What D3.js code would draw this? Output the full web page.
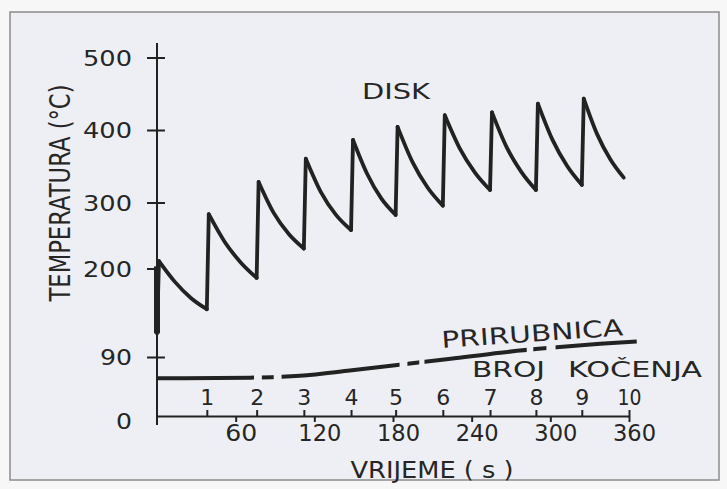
<!DOCTYPE html>
<html lang="hr">
<head>
<meta charset="utf-8">
<title>Temperatura diska i prirubnice pri kočenju</title>
<style>
html, body { margin: 0; padding: 0; background: #f7f7f7; }
svg { display: block; }
text { font-family: "DejaVu Sans", "Liberation Sans", sans-serif; fill: #262626; }
</style>
<script src="https://d3js.org/d3.v7.min.js"></script>
</head>
<body>
<div id="chart"></div>
<script>
// braking moments (s), numbered 1..10 along the time axis
var brakeNo = [1, 2, 3, 4, 5, 6, 7, 8, 9, 10];
var brakeTime = [38, 76, 112, 148, 182, 218, 254, 289, 324, 360];
var timeTicks = [60, 120, 180, 240, 300, 360];
var tempTicks = [0, 90, 200, 300, 400, 500];

// disk: heats up at every braking, cools down until the next one
var diskStart = 120;
var diskPeak  = [212, 283, 329, 361, 387, 405, 421, 425, 437, 444];
var diskFall1 = [184, 241, 285, 315, 340, 356, 375, 377, 387, 395];
var diskFall2 = [164, 210, 253, 282, 306, 321, 342, 343, 351, 360];
var diskLow   = [150, 189, 231, 259, 282, 296, 318, 318, 325, 335];
var diskEnd = 356;

// flange (prirubnica)
var flangeTime = [0, 71, 109, 147, 185, 224, 262, 300, 338, 366];
var flangeTemp = [58, 59, 62, 70, 79, 88, 96, 102, 107, 110];
// pieces of the flange line that are inked (the drawing has small gaps)
var flangeInk = [[0, 74], [80, 89], [95, 185], [191, 200], [204, 282], [287, 297], [304, 366]];

var width = 727, height = 489;
var ink = "#222";

var svg = d3.select("#chart").append("svg")
    .attr("width", width)
    .attr("height", height);

// paper + frame
svg.append("rect")
    .attr("x", 10).attr("y", 12)
    .attr("width", 709).attr("height", 468)
    .style("fill", "#eeeff4")
    .style("stroke", "#8c8c8c")
    .style("stroke-width", 1.5);

// the original temperature axis is not uniform (0-90 is squeezed)
var x = d3.scaleLinear().domain([0, 360]).range([157, 629]);
var y = d3.scaleLinear().domain(tempTicks).range([416, 357.5, 269, 203, 130.5, 58]);

// lettering in the original is wide stencil type: stretch glyphs to the measured widths
function fit(sel, w) {
    sel.attr("textLength", w).attr("lengthAdjust", "spacingAndGlyphs");
}

// ---- temperature axis ----
svg.append("line")
    .attr("x1", x(0)).attr("x2", x(0))
    .attr("y1", y(0) + 9).attr("y2", y(500) - 15)
    .style("stroke", ink).style("stroke-width", 2);

svg.selectAll(".ytick")
    .data(tempTicks.filter(function(d) { return d > 0; }))
    .enter()
    .append("line")
        .attr("class", "ytick")
        .attr("x1", x(0) - 10)
        .attr("x2", function(d) { return d == 200 ? x(0) : x(0) + 8; })
        .attr("y1", function(d) { return y(d); })
        .attr("y2", function(d) { return y(d); })
        .style("stroke", ink).style("stroke-width", 2);

svg.selectAll(".ylab")
    .data(tempTicks)
    .enter()
    .append("text")
        .attr("class", "ylab")
        .attr("x", 132)
        .attr("y", function(d) { return y(d) + (d == 0 ? 5 : 0); })
        .attr("dy", "0.36em")
        .attr("text-anchor", "end")
        .style("font-size", "21px")
        .text(function(d) { return d; })
        .call(fit, function(d) { return [16, 32, 49][String(d).length - 1]; });

svg.append("text")
    .attr("transform", "translate(70," + 193 + ") rotate(-90)")
    .attr("text-anchor", "middle")
    .style("font-size", "29px")
    .text("TEMPERATURA (°C)")
    .call(fit, 217);

// ---- time axis ----
var xAxis = d3.axisBottom(x)
    .tickValues(timeTicks)
    .tickSize(6)
    .tickSizeOuter(0)
    .tickPadding(3);

var gx = svg.append("g")
    .attr("transform", "translate(0," + y(0) + ")")
    .call(xAxis);
gx.attr("font-family", null).attr("font-size", null);
gx.select(".domain").style("stroke", ink).style("stroke-width", 2);
gx.selectAll(".tick line").style("stroke", ink).style("stroke-width", 2);
gx.selectAll(".tick text")
    .attr("dx", 5)
    .style("font-size", "23px")
    .style("fill", "#262626")
    .call(fit, function(d) { return d < 100 ? 32 : 43; });

// braking numbers above the axis
var bAxis = d3.axisTop(x)
    .tickValues(brakeTime)
    .tickFormat(function(d, i) { return brakeNo[i]; })
    .tickSize(6)
    .tickSizeOuter(0)
    .tickPadding(5);

var gb = svg.append("g")
    .attr("transform", "translate(0," + y(0) + ")")
    .call(bAxis);
gb.attr("font-family", null).attr("font-size", null);
gb.select(".domain").remove();
gb.selectAll(".tick line").style("stroke", ink).style("stroke-width", 2);
gb.selectAll(".tick text")
    .style("font-size", "21px")
    .style("fill", "#262626")
    .call(fit, function(d, i) { return brakeNo[i] < 10 ? 14 : 24; });

svg.append("text")
    .attr("x", 432).attr("y", 478)
    .attr("text-anchor", "middle")
    .style("font-size", "23px")
    .text("VRIJEME ( s )")
    .call(fit, 163);

svg.append("text")
    .attr("x", 472).attr("y", 377)
    .style("font-size", "22px")
    .text("BROJ")
    .call(fit, 73);

svg.append("text")
    .attr("x", 568).attr("y", 377)
    .style("font-size", "22px")
    .text("KOČENJA")
    .call(fit, 134);

// ---- disk curve ----
var line = d3.line()
    .x(function(d) { return x(d[0]); })
    .y(function(d) { return y(d[1]); });
var curve = d3.line()
    .x(function(d) { return x(d[0]); })
    .y(function(d) { return y(d[1]); })
    .curve(d3.curveMonotoneX);

var cycles = diskPeak.map(function(p, k) {
    var t0 = k == 0 ? 0 : brakeTime[k - 1];
    var t1 = k < diskPeak.length - 1 ? brakeTime[k] : diskEnd;
    var tp = t0 + 1.5;
    var step = (t1 - tp) / 3;
    return {
        rise: [[t0, k == 0 ? diskStart : diskLow[k - 1]], [tp, p]],
        fall: [[tp, p], [tp + step, diskFall1[k]], [tp + 2 * step, diskFall2[k]], [t1, diskLow[k]]]
    };
});

var gd = svg.append("g")
    .style("fill", "none")
    .style("stroke", ink)
    .style("stroke-width", 3.8)
    .style("stroke-linecap", "round")
    .style("stroke-linejoin", "round");

gd.selectAll(".rise")
    .data(cycles)
    .enter()
    .append("path")
        .attr("class", "rise")
        .attr("d", function(d) { return line(d.rise); });

gd.selectAll(".fall")
    .data(cycles)
    .enter()
    .append("path")
        .attr("class", "fall")
        .attr("d", function(d) { return curve(d.fall); });

// first heating stroke is drawn heavier in the original
gd.append("path")
    .attr("d", line([[0, diskStart], [0, diskPeak[0] - 8]]))
    .style("stroke-width", 6)
    .style("stroke-linecap", "butt");

svg.append("text")
    .attr("x", 362).attr("y", 99)
    .style("font-size", "22px")
    .text("DISK")
    .call(fit, 68);

// ---- flange curve ----
var clip = svg.append("clipPath").attr("id", "flangeInk");
clip.selectAll("rect")
    .data(flangeInk)
    .enter()
    .append("rect")
        .attr("x", function(d) { return x(d[0]); })
        .attr("width", function(d) { return x(d[1]) - x(d[0]); })
        .attr("y", 0)
        .attr("height", height);

svg.append("path")
    .attr("d", curve(flangeTime.map(function(t, i) { return [t, flangeTemp[i]]; })))
    .attr("clip-path", "url(#flangeInk)")
    .style("fill", "none")
    .style("stroke", ink)
    .style("stroke-width", 4);

svg.append("text")
    .attr("transform", "translate(442,348) rotate(-4)")
    .style("font-size", "23px")
    .text("PRIRUBNICA")
    .call(fit, 182);
</script>
</body>
</html>
